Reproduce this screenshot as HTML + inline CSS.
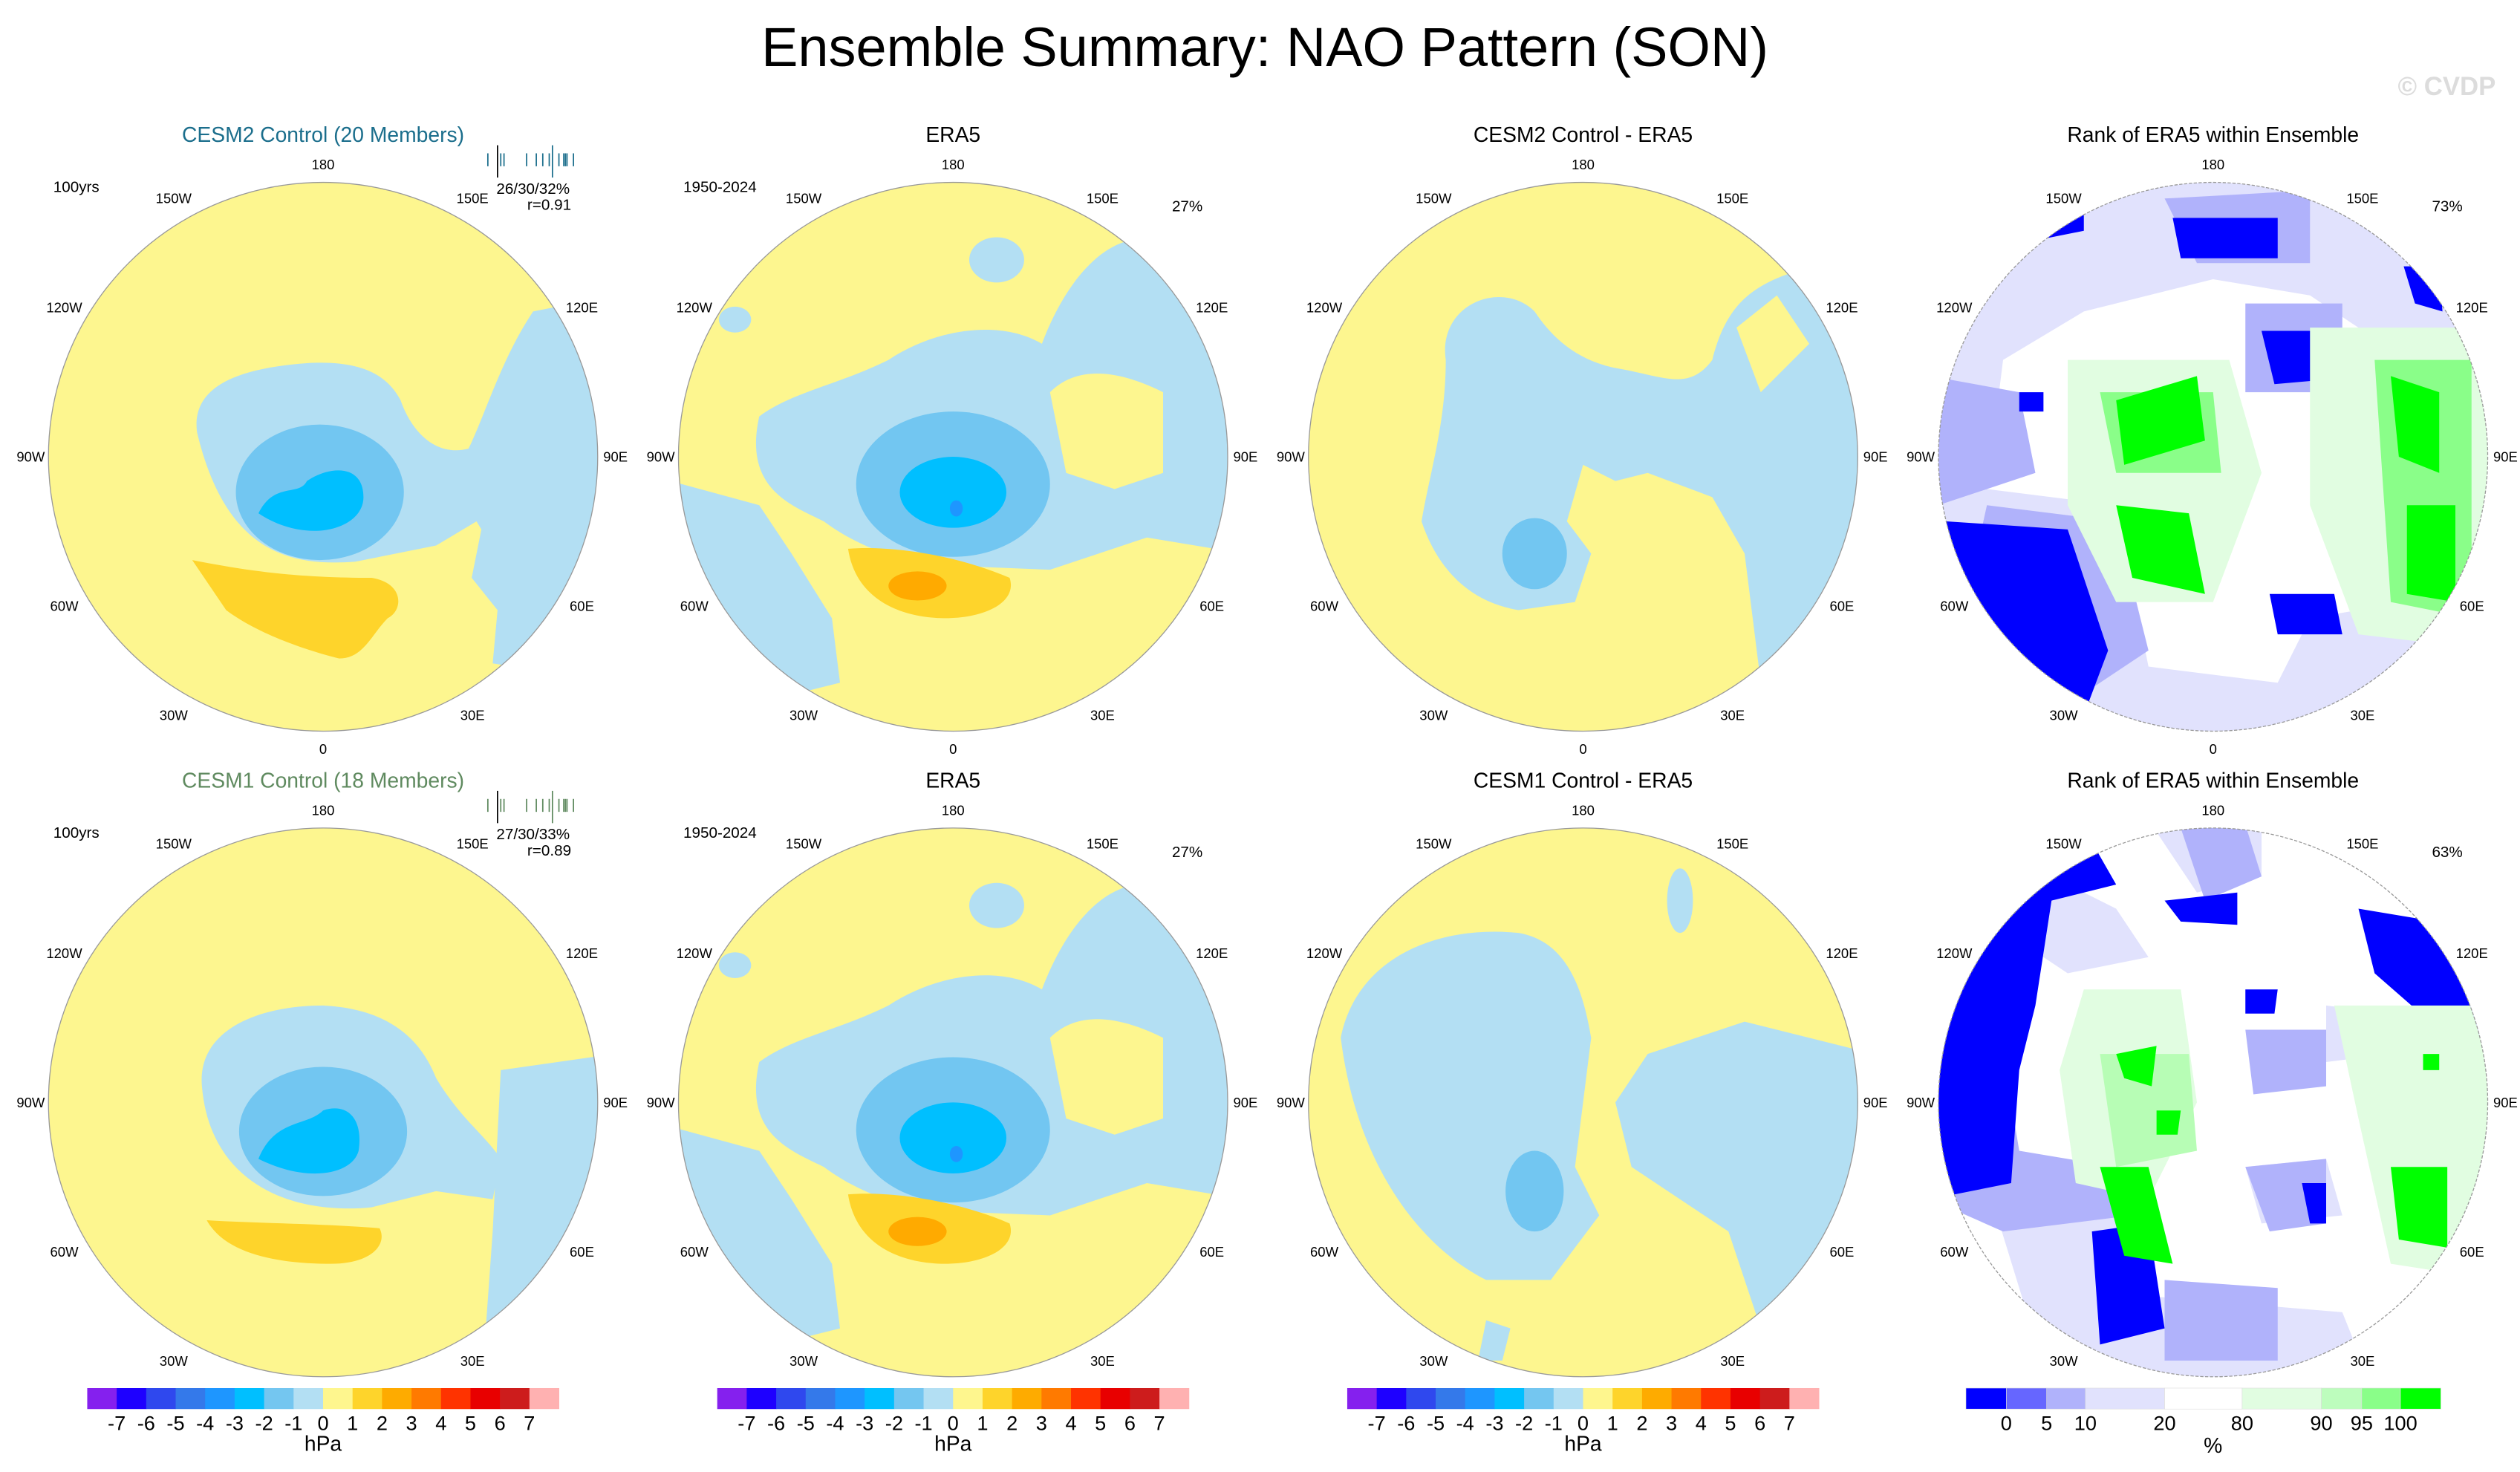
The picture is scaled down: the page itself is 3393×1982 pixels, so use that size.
<!DOCTYPE html>
<html><head><meta charset="utf-8"><style>
html,body{margin:0;padding:0;background:#fff}
svg{display:block;font-family:"Liberation Sans",sans-serif}
</style></head><body>
<svg id="fig" width="3393" height="1982" viewBox="0 0 1560 912" preserveAspectRatio="none" xmlns="http://www.w3.org/2000/svg">
<defs>
<clipPath id="cc"><circle cx="0" cy="0" r="170"/></clipPath>
</defs>
<text x="783" y="41" font-size="34" text-anchor="middle">Ensemble Summary: NAO Pattern (SON)</text>
<text x="1545" y="59" font-size="16" font-weight="bold" fill="#dcdcdc" text-anchor="end">© CVDP</text>

<!-- Row 1 Panel 1 -->
<g transform="translate(200,283)">
 <g clip-path="url(#cc)">
  <circle r="170" fill="#fdf68f"/>
  <path fill="#b3dff3" d="M-78,-15 C-82,-45 -50,-55 -10,-58 C25,-60 40,-50 48,-35 C55,-15 70,0 90,-5 C100,-25 110,-60 130,-90 L180,-100 L180,140 L105,128 L108,95 L92,75 L98,45 L95,40 L70,55 L20,65 C-20,68 -60,60 -78,-15 Z"/>
  <ellipse cx="-2" cy="22" rx="52" ry="42" fill="#72c6f1"/>
  <path fill="#00bfff" d="M-40,35 C-30,15 -15,25 -10,15 C5,5 25,5 25,25 C25,45 -10,55 -40,35 Z"/>
  <path fill="#fed42b" d="M-81,64 C-50,70 -20,75 30,75 C50,78 50,95 40,100 C30,110 25,125 10,125 C-10,120 -40,110 -60,95 Z"/>
 </g>
 <circle r="170" fill="none" stroke="#999" stroke-width="0.6"/>
</g>
<!-- Row 1 Panel 2 -->
<g transform="translate(590,283)">
 <g clip-path="url(#cc)">
  <circle r="170" fill="#fdf68f"/>
  <path fill="#b3dff3" d="M-120,-25 C-100,-40 -70,-45 -40,-60 C-10,-80 30,-85 55,-70 C70,-110 100,-150 140,-130 L180,-120 L180,60 L120,50 L60,70 L10,68 C-30,68 -60,55 -80,40 C-100,30 -130,20 -120,-25 Z"/>
  <path fill="#b3dff3" d="M-175,15 L-120,30 L-100,60 L-75,100 L-70,140 L-110,150 L-175,140 Z"/>
  <ellipse cx="27" cy="-122" rx="17" ry="14" fill="#b3dff3"/>
  <ellipse cx="-135" cy="-85" rx="10" ry="8" fill="#b3dff3"/>
  <path fill="#fdf68f" d="M60,-40 C80,-60 110,-50 130,-40 L130,10 L100,20 L70,10 Z"/>
  <ellipse cx="0" cy="17" rx="60" ry="45" fill="#72c6f1"/>
  <ellipse cx="0" cy="22" rx="33" ry="22" fill="#00bfff"/>
  <ellipse cx="2" cy="32" rx="4" ry="5" fill="#1e96ff"/>
  <path fill="#fed42b" d="M-65,57 C-40,55 0,60 35,75 C40,90 20,100 -5,100 C-30,100 -60,90 -65,57 Z"/>
  <ellipse cx="-22" cy="80" rx="18" ry="9" fill="#ffaa00"/>
 </g>
 <circle r="170" fill="none" stroke="#999" stroke-width="0.6"/>
</g>
<!-- Row 1 Panel 3 -->
<g transform="translate(980,283)">
 <g clip-path="url(#cc)">
  <circle r="170" fill="#fdf68f"/>
  <path fill="#b3dff3" d="M-85,-60 C-90,-95 -50,-110 -30,-90 C-20,-75 -5,-60 20,-55 C50,-50 65,-40 80,-60 C90,-100 110,-110 150,-120 L180,-120 L180,140 L110,140 L100,60 L80,25 L40,10 L20,15 L0,5 L-10,40 L5,60 L-5,90 L-40,95 C-70,90 -90,70 -100,40 C-95,10 -85,-20 -85,-60 Z"/>
  <path fill="#fdf68f" d="M95,-80 L120,-100 L140,-70 L110,-40 Z"/>
  <ellipse cx="-30" cy="60" rx="20" ry="22" fill="#72c6f1"/>
 </g>
 <circle r="170" fill="none" stroke="#999" stroke-width="0.6"/>
</g>
<!-- Row 1 Panel 4 -->
<g transform="translate(1370,283)">
 <g clip-path="url(#cc)">
  <circle r="170" fill="#fff"/>
  <path fill="#e1e2fd" d="M-175,-120 L-90,-170 L60,-175 L120,-130 L175,-110 L175,-60 L120,-60 L60,-100 L0,-110 L-80,-90 L-130,-60 L-140,20 L-60,30 L-40,130 L40,140 L60,100 L120,90 L180,100 L180,180 L-180,180 Z"/>
  <path fill="#b0b2fb" d="M-175,-50 L-120,-40 L-110,10 L-170,30 Z M-30,-160 L60,-165 L60,-120 L-10,-120 Z M20,-95 L80,-95 L80,-40 L20,-40 Z M-140,30 L-60,40 L-40,120 L-100,160 L-160,120 Z"/>
  <path fill="#0000ff" d="M-165,40 L-90,45 L-65,120 L-80,160 L-120,150 L-175,100 Z M-25,-148 L40,-148 L40,-123 L-20,-123 Z M-135,-165 L-80,-165 L-80,-140 L-130,-130 Z M30,-78 L70,-78 L72,-48 L38,-45 Z M118,-118 L140,-118 L142,-90 L125,-95 Z M35,85 L75,85 L80,110 L40,110 Z M-120,-40 L-105,-40 L-105,-28 L-120,-28 Z"/>
  <path fill="#e1fde1" d="M-90,-60 L10,-60 L30,10 L0,90 L-60,90 L-90,30 Z M60,-80 L175,-80 L175,120 L90,110 L60,30 Z"/>
  <path fill="#8afe89" d="M-70,-40 L0,-40 L5,10 L-60,10 Z M100,-60 L160,-60 L160,100 L110,90 Z"/>
  <path fill="#00ff00" d="M-60,-35 L-10,-50 L-5,-10 L-55,5 Z M-60,30 L-15,35 L-5,85 L-50,75 Z M110,-50 L140,-40 L140,10 L115,0 Z M120,30 L150,30 L150,90 L120,85 Z"/>
 </g>
 <circle r="170" fill="none" stroke="#999" stroke-width="0.6" stroke-dasharray="2,1"/>
</g>

<!-- Row 2 Panel 1 -->
<g transform="translate(200,683)">
 <g clip-path="url(#cc)">
  <circle r="170" fill="#fdf68f"/>
  <path fill="#b3dff3" d="M-75,-10 C-78,-45 -40,-60 0,-60 C40,-58 60,-40 70,-15 C85,10 100,20 110,35 L105,60 L70,55 L30,65 C-20,70 -70,50 -75,-10 Z"/>
  <path fill="#b3dff3" d="M110,-20 L180,-30 L180,170 L100,150 L105,80 Z"/>
  <ellipse cx="0" cy="18" rx="52" ry="40" fill="#72c6f1"/>
  <path fill="#00bfff" d="M-40,35 C-30,10 -10,15 0,5 C15,0 25,10 22,30 C18,45 -10,50 -40,35 Z"/>
  <path fill="#fed42b" d="M-72,73 C-40,75 0,75 35,78 C40,88 30,100 5,100 C-25,100 -60,95 -72,73 Z"/>
 </g>
 <circle r="170" fill="none" stroke="#999" stroke-width="0.6"/>
</g>
<!-- Row 2 Panel 2 -->
<g transform="translate(590,683)">
 <g clip-path="url(#cc)">
  <circle r="170" fill="#fdf68f"/>
  <path fill="#b3dff3" d="M-120,-25 C-100,-40 -70,-45 -40,-60 C-10,-80 30,-85 55,-70 C70,-110 100,-150 140,-130 L180,-120 L180,60 L120,50 L60,70 L10,68 C-30,68 -60,55 -80,40 C-100,30 -130,20 -120,-25 Z"/>
  <path fill="#b3dff3" d="M-175,15 L-120,30 L-100,60 L-75,100 L-70,140 L-110,150 L-175,140 Z"/>
  <ellipse cx="27" cy="-122" rx="17" ry="14" fill="#b3dff3"/>
  <ellipse cx="-135" cy="-85" rx="10" ry="8" fill="#b3dff3"/>
  <path fill="#fdf68f" d="M60,-40 C80,-60 110,-50 130,-40 L130,10 L100,20 L70,10 Z"/>
  <ellipse cx="0" cy="17" rx="60" ry="45" fill="#72c6f1"/>
  <ellipse cx="0" cy="22" rx="33" ry="22" fill="#00bfff"/>
  <ellipse cx="2" cy="32" rx="4" ry="5" fill="#1e96ff"/>
  <path fill="#fed42b" d="M-65,57 C-40,55 0,60 35,75 C40,90 20,100 -5,100 C-30,100 -60,90 -65,57 Z"/>
  <ellipse cx="-22" cy="80" rx="18" ry="9" fill="#ffaa00"/>
 </g>
 <circle r="170" fill="none" stroke="#999" stroke-width="0.6"/>
</g>
<!-- Row 2 Panel 3 -->
<g transform="translate(980,683)">
 <g clip-path="url(#cc)">
  <circle r="170" fill="#fdf68f"/>
  <path fill="#b3dff3" d="M-150,-40 C-140,-90 -90,-110 -40,-105 C-10,-100 0,-70 5,-40 L0,0 L-5,40 L10,70 L-20,110 L-60,110 C-100,90 -140,40 -150,-40 Z"/>
  <path fill="#b3dff3" d="M40,-30 L100,-50 L140,-40 L180,-30 L180,150 L110,140 L90,80 L60,60 L30,40 L20,0 Z"/>
  <ellipse cx="60" cy="-125" rx="8" ry="20" fill="#b3dff3"/>
  <ellipse cx="-30" cy="55" rx="18" ry="25" fill="#72c6f1"/>
  <path fill="#b3dff3" d="M-60,135 L-45,140 L-50,160 L-65,160 Z"/>
 </g>
 <circle r="170" fill="none" stroke="#999" stroke-width="0.6"/>
</g>
<!-- Row 2 Panel 4 -->
<g transform="translate(1370,683)">
 <g clip-path="url(#cc)">
  <circle r="170" fill="#fff"/>
  <path fill="#e1e2fd" d="M-40,-175 L30,-175 L30,-140 L-10,-130 Z M-120,-100 L-100,-140 L-60,-120 L-40,-90 L-90,-80 Z M70,-60 L110,-55 L110,-30 L70,-25 Z M-140,50 L-60,60 L-40,120 L80,130 L100,180 L-100,180 Z M20,40 L70,35 L80,70 L30,75 Z"/>
  <path fill="#b0b2fb" d="M-20,-170 L20,-172 L30,-140 L-5,-125 Z M-175,-20 L-130,-30 L-120,30 L-60,40 L-50,70 L-130,80 L-175,60 Z M20,-45 L70,-45 L70,-10 L25,-5 Z M20,40 L70,35 L70,75 L35,80 Z M-30,110 L40,115 L40,160 L-30,160 Z"/>
  <path fill="#0000ff" d="M-175,-100 L-140,-150 L-80,-170 L-60,-135 L-100,-125 L-110,-60 L-120,-20 L-125,50 L-175,60 Z M-30,-125 L15,-130 L15,-110 L-20,-112 Z M90,-120 L150,-110 L170,-40 L140,-45 L100,-80 Z M-75,80 L-40,75 L-30,140 L-70,150 Z M20,-70 L40,-70 L38,-55 L20,-55 Z M55,50 L70,50 L70,75 L60,75 Z"/>
  <path fill="#e1fde1" d="M-80,-70 L-20,-70 L-10,0 L-40,60 L-85,50 L-95,-20 Z M75,-60 L175,-60 L175,110 L110,100 L90,10 Z"/>
  <path fill="#b7fdb5" d="M-70,-30 L-15,-30 L-10,30 L-60,40 Z"/>
  <path fill="#00ff00" d="M-60,-30 L-35,-35 L-38,-10 L-55,-15 Z M-70,40 L-40,40 L-25,100 L-55,95 Z M110,40 L145,40 L145,90 L115,85 Z M-35,5 L-20,5 L-22,20 L-35,20 Z M130,-30 L140,-30 L140,-20 L130,-20 Z"/>
 </g>
 <circle r="170" fill="none" stroke="#999" stroke-width="0.6" stroke-dasharray="2,1"/>
</g>

<g id="labels"></g>
<g id="bars"></g>
</svg>
<script>
const NS='http://www.w3.org/2000/svg';
const svg=document.getElementById('fig');
const labelsG=document.getElementById('labels');
const barsG=document.getElementById('bars');
const colCenters=[200,590,980,1370];
const rowCenters=[283,683];
const lonLabels=['180','150E','120E','90E','60E','30E','0','30W','60W','90W','120W','150W'];
const panelTitles=['CESM2 Control (20 Members)','ERA5','CESM2 Control - ERA5','Rank of ERA5 within Ensemble','CESM1 Control (18 Members)','ERA5','CESM1 Control - ERA5','Rank of ERA5 within Ensemble'];
const titleColors=['#1b6e8c','#000','#000','#000','#5f8a5f','#000','#000','#000'];
const leftNotes=['100yrs','1950-2024','','','100yrs','1950-2024','',''];
const rightNotes=['','27%','','73%','','27%','','63%'];
const pcNotes=['26/30/32%','27/30/33%'];
const rNotes=['r=0.91','r=0.89'];
const hpaColors=['#8520ee','#1e00ff','#2f48ee','#3479ea','#1e96ff','#00bfff','#74c6f0','#b3dff3','#fef68e','#fed42b','#feab00','#ff7a00','#ff3300','#e80000','#cd1c1c','#ffb1b1'];
const hpaTicks=['-7','-6','-5','-4','-3','-2','-1','0','1','2','3','4','5','6','7'];
const rankColors=['#0000ff','#6666ff','#b0b2fb','#e1e2fd','#ffffff','#e1fde1','#bdfdbd','#8afe89','#00ff00'];
const rankEdges=[1217,1242,1267,1291,1340,1388,1437,1462,1486,1511];
const rankTicks=['0','5','10','20','80','90','95','100'];
function txt(parent,x,y,s,size,anchor,fill,name){
  const t=document.createElementNS(NS,'text');
  t.setAttribute('x',x);t.setAttribute('y',y);t.setAttribute('font-size',size);
  t.setAttribute('text-anchor',anchor||'middle');t.setAttribute('fill',fill||'#000');
  t.textContent=s;
  
  
  parent.appendChild(t);return t;
}
for(let r=0;r<2;r++)for(let c=0;c<4;c++){
  const i=r*4+c,cx=colCenters[c],cy=rowCenters[r];
  txt(labelsG,cx,cy-195,panelTitles[i],13,'middle',titleColors[i],'panel-title');
  if(leftNotes[i])txt(labelsG,cx-167,cy-164,leftNotes[i],9.5,'start','#000','period-label');
  if(rightNotes[i])txt(labelsG,cx+145,cy-152,rightNotes[i],9.5,'middle','#000','variance-label');
  for(let k=0;k<12;k++){
    const a=k*Math.PI/6, R=(k%3===0)?181:185;
    const x=cx+R*Math.sin(a), y=cy-R*Math.cos(a)+3;
    txt(labelsG,x,y,lonLabels[k],8.5,'middle','#000','longitude-label');
  }
}
for(let r=0;r<2;r++){
  const cy=rowCenters[r];
  txt(labelsG,330,cy-163,pcNotes[r],9.5,'middle','#000','pc-percent-label');
  txt(labelsG,340,cy-153,rNotes[r],9.5,'middle','#000','pattern-correlation-label');
  const col=titleColors[r*4];
  const ticks=[302,308,310,312,326,332,336,340,342,346,349,350,351,355];
  ticks.forEach((x,j)=>{const l=document.createElementNS(NS,'line');
    l.setAttribute('x1',x);l.setAttribute('x2',x);
    const tall=(j===1||j===8);
    l.setAttribute('y1',cy-(tall?193:188));l.setAttribute('y2',cy-(tall?173:180));
    l.setAttribute('stroke',j===1?'#000':col);l.setAttribute('stroke-width',0.8);
    
    
    labelsG.appendChild(l);});
}
[0,1,2].forEach(c=>{
  const x0=colCenters[c]-146, w=292/hpaColors.length;
  hpaColors.forEach((col,j)=>{const b=document.createElementNS(NS,'rect');
    b.setAttribute('x',x0+j*w);b.setAttribute('y',860);b.setAttribute('width',w+0.2);b.setAttribute('height',13);b.setAttribute('fill',col);
    
    
    barsG.appendChild(b);});
  hpaTicks.forEach((s,j)=>txt(barsG,x0+(j+1)*w,886,s,12.5,'middle','#000','colorbar-tick'));
  txt(barsG,colCenters[c],899,'hPa',13,'middle','#000','colorbar-units');
});
rankColors.forEach((col,j)=>{const b=document.createElementNS(NS,'rect');
  b.setAttribute('x',rankEdges[j]);b.setAttribute('y',860);b.setAttribute('width',rankEdges[j+1]-rankEdges[j]);b.setAttribute('height',13);b.setAttribute('fill',col);
  b.setAttribute('stroke','#ddd');b.setAttribute('stroke-width',0.3);
  
  
  barsG.appendChild(b);});
rankTicks.forEach((s,j)=>txt(barsG,rankEdges[j+1],886,s,12.5,'middle','#000','rank-colorbar-tick'));
txt(barsG,1370,900,'%',13,'middle','#000','rank-colorbar-units');
</script>
</body></html>
